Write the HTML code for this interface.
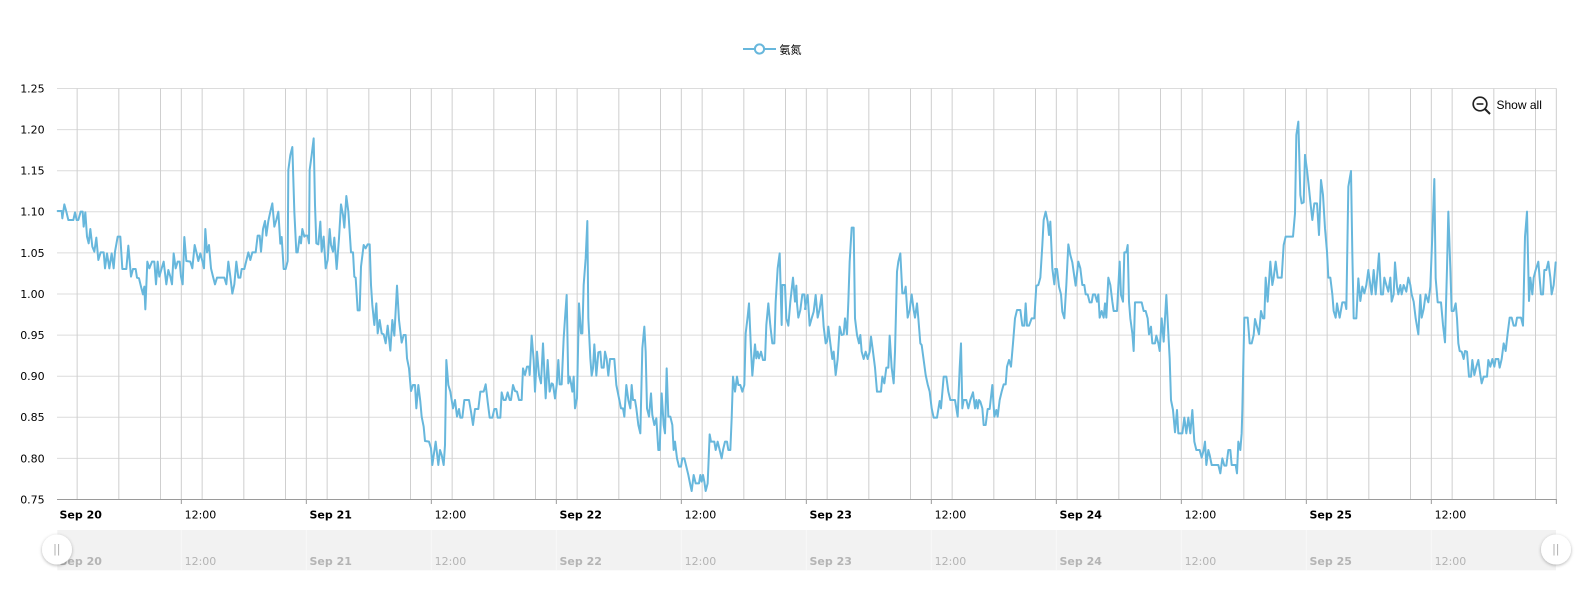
<!DOCTYPE html>
<html>
<head>
<meta charset="utf-8">
<style>
  html, body { margin: 0; padding: 0; background: #ffffff; }
  body { width: 1577px; height: 595px; overflow: hidden; }
  svg { display: block; }
  .ax { font-family: "DejaVu Sans", "Liberation Sans", sans-serif; font-size: 11px; fill: #000; }
  .axb { font-family: "DejaVu Sans", "Liberation Sans", sans-serif; font-size: 11px; font-weight: bold; fill: #000; }
  .sc { font-family: "DejaVu Sans", "Liberation Sans", sans-serif; font-size: 11px; fill: #b4b4b4; }
  .scb { font-family: "DejaVu Sans", "Liberation Sans", sans-serif; font-size: 11px; font-weight: bold; fill: #b4b4b4; }
  .ser { fill: none; stroke: #67b7dc; stroke-width: 2; stroke-linejoin: round; stroke-linecap: round; }
</style>
</head>
<body>
<svg width="1577" height="595" viewBox="0 0 1577 595" xmlns="http://www.w3.org/2000/svg">
  <defs>
    <g id="dayg" stroke="#cfcfcf" stroke-width="1">
      <line x1="20.83" y1="88.5" x2="20.83" y2="499.5"/>
      <line x1="62.5" y1="88.5" x2="62.5" y2="499.5"/>
      <line x1="104.17" y1="88.5" x2="104.17" y2="499.5"/>
      <line x1="125" y1="88.5" x2="125" y2="499.5"/>
      <line x1="145.83" y1="88.5" x2="145.83" y2="499.5"/>
      <line x1="187.5" y1="88.5" x2="187.5" y2="499.5"/>
      <line x1="229.17" y1="88.5" x2="229.17" y2="499.5"/>
      <line x1="250" y1="88.5" x2="250" y2="499.5"/>
    </g>
    <filter id="sh" x="-50%" y="-50%" width="200%" height="200%">
      <feDropShadow dx="0" dy="1" stdDeviation="1.6" flood-color="#000" flood-opacity="0.3"/>
    </filter>
  </defs>

  <!-- horizontal grid -->
  <g stroke="#dcdcdc" stroke-width="1">
    <line x1="57" y1="88.5" x2="1556.5" y2="88.5"/>
    <line x1="57" y1="129.6" x2="1556.5" y2="129.6"/>
    <line x1="57" y1="170.7" x2="1556.5" y2="170.7"/>
    <line x1="57" y1="211.8" x2="1556.5" y2="211.8"/>
    <line x1="57" y1="252.9" x2="1556.5" y2="252.9"/>
    <line x1="57" y1="294" x2="1556.5" y2="294"/>
    <line x1="57" y1="335.1" x2="1556.5" y2="335.1"/>
    <line x1="57" y1="376.2" x2="1556.5" y2="376.2"/>
    <line x1="57" y1="417.3" x2="1556.5" y2="417.3"/>
    <line x1="57" y1="458.4" x2="1556.5" y2="458.4"/>
  </g>

  <!-- vertical grid -->
  <use href="#dayg" x="56.33" y="0"/>
  <use href="#dayg" x="306.33" y="0"/>
  <use href="#dayg" x="556.33" y="0"/>
  <use href="#dayg" x="806.33" y="0"/>
  <use href="#dayg" x="1056.33" y="0"/>
  <use href="#dayg" x="1306.33" y="0"/>

  <!-- axis line -->
  <line x1="57" y1="499.5" x2="1556.8" y2="499.5" stroke="#9a9a9a" stroke-width="1"/>
  <g stroke="#9a9a9a" stroke-width="1">
    <line x1="181.33" y1="499.5" x2="181.33" y2="504"/>
    <line x1="306.33" y1="499.5" x2="306.33" y2="504"/>
    <line x1="431.33" y1="499.5" x2="431.33" y2="504"/>
    <line x1="556.33" y1="499.5" x2="556.33" y2="504"/>
    <line x1="681.33" y1="499.5" x2="681.33" y2="504"/>
    <line x1="806.33" y1="499.5" x2="806.33" y2="504"/>
    <line x1="931.33" y1="499.5" x2="931.33" y2="504"/>
    <line x1="1056.33" y1="499.5" x2="1056.33" y2="504"/>
    <line x1="1181.33" y1="499.5" x2="1181.33" y2="504"/>
    <line x1="1306.33" y1="499.5" x2="1306.33" y2="504"/>
    <line x1="1431.33" y1="499.5" x2="1431.33" y2="504"/>
    <line x1="1556.33" y1="499.5" x2="1556.33" y2="504"/>
  </g>

  <!-- y labels -->
  <g class="ax" text-anchor="end">
    <text x="44.7" y="92.4">1.25</text>
    <text x="44.7" y="133.5">1.20</text>
    <text x="44.7" y="174.6">1.15</text>
    <text x="44.7" y="215.7">1.10</text>
    <text x="44.7" y="256.8">1.05</text>
    <text x="44.7" y="297.9">1.00</text>
    <text x="44.7" y="339">0.95</text>
    <text x="44.7" y="380.1">0.90</text>
    <text x="44.7" y="421.2">0.85</text>
    <text x="44.7" y="462.3">0.80</text>
    <text x="44.7" y="503.4">0.75</text>
  </g>

  <!-- x labels -->
  <text class="axb" x="59.5" y="518.3">Sep 20</text>
  <text class="ax" x="184.6" y="518.3">12:00</text>
  <text class="axb" x="309.5" y="518.3">Sep 21</text>
  <text class="ax" x="434.6" y="518.3">12:00</text>
  <text class="axb" x="559.5" y="518.3">Sep 22</text>
  <text class="ax" x="684.6" y="518.3">12:00</text>
  <text class="axb" x="809.5" y="518.3">Sep 23</text>
  <text class="ax" x="934.6" y="518.3">12:00</text>
  <text class="axb" x="1059.5" y="518.3">Sep 24</text>
  <text class="ax" x="1184.6" y="518.3">12:00</text>
  <text class="axb" x="1309.5" y="518.3">Sep 25</text>
  <text class="ax" x="1434.6" y="518.3">12:00</text>

  <!-- series -->
  <g transform="translate(55,85) scale(0.333333)">
    <polyline class="ser" vector-effect="non-scaling-stroke" points="8,378 20,378 22,400 28,358 34,380 40,405 55,405 60,382 65,405 70,405 77,380 83,380 86,425 91,382 96,455 101,475 106,432 112,485 118,500 124,458 130,525 137,502 146,502 150,550 156,505 163,550 170,505 176,550 180,500 188,455 196,455 202,552 214,552 220,482 228,575 234,552 242,552 246,578 252,580 258,605 264,628 268,605 271,673 277,530 283,550 291,530 298,530 303,598 308,530 313,575 320,550 326,530 334,598 340,555 346,575 351,598 356,505 362,550 368,530 374,530 378,575 383,598 388,456 394,528 406,530 412,550 419,480 425,505 430,528 436,505 442,528 447,550 451,432 456,502 462,480 468,550 474,575 480,598 486,578 508,578 514,598 520,530 526,575 532,626 538,598 544,530 550,578 556,578 560,552 568,552 580,502 586,525 592,502 602,502 608,452 614,452 618,500 624,432 630,408 634,452 640,408 646,380 652,355 658,425 664,405 670,380 676,476 680,456 686,552 692,552 698,528 700,255 706,210 712,186 718,380 724,502 728,502 734,455 738,475 742,432 748,455 750,452"/>
  </g>
  <g transform="translate(305,85) scale(0.333333)">
    <polyline class="ser" vector-effect="non-scaling-stroke" points="0,452 8,452 12,475 14,255 20,210 26,160 30,360 34,475 40,478 46,410 50,500 56,455 62,550 68,525 74,432 78,480 84,500 88,458 95,552 102,460 108,358 114,390 118,428 124,333 130,380 138,502 144,502 148,575 152,578 158,676 164,676 168,545 176,480 182,490 188,478 194,478 198,600 202,660 208,720 214,655 218,745 224,705 230,745 236,748 242,775 248,722 256,797 262,705 268,752 276,602 282,705 290,773 296,750 302,750 306,820 312,850 318,918 324,900 330,900 334,970 340,900 346,950 350,995 356,1025 360,1068 372,1070 378,1090 382,1140 392,1070 400,1140 405,1095 410,1110 416,1140 420,1080 424,825 430,900 436,920 444,970 450,945 456,995 462,972 466,998 472,998 478,945 492,945 498,980 504,1020 510,972 520,972 526,920 536,920 542,898 548,950 554,998 562,998 568,972 574,972 578,998 586,998 590,922 596,945 602,945 608,922 614,945 618,945 624,900 630,918 636,920 642,945 650,945 654,850 660,870 666,845 672,845 674,870 680,752 686,825 690,920 696,800 702,870 708,895 714,775 720,900 722,940 728,825 734,920 740,895 744,898 750,940"/>
  </g>
  <g transform="translate(555,85) scale(0.333333)">
    <polyline class="ser" vector-effect="non-scaling-stroke" points="0,940 5,900 10,825 14,898 20,898 26,760 30,700 35,630 40,895 44,875 48,895 52,920 56,875 60,970 66,940 72,655 78,745 82,745 86,600 92,520 97,408 100,700 106,820 110,872 114,850 118,778 124,872 130,802 136,800 140,848 146,848 150,800 155,822 160,872 165,822 178,822 184,900 190,930 198,970 204,970 208,995 214,900 220,945 226,970 230,900 234,945 240,945 244,970 250,1020 256,1045 262,790 268,725 272,800 276,970 282,995 288,925 292,990 298,1020 304,1000 310,1095 314,1095 320,925 326,1020 330,1045 335,850 340,995 346,995 352,1020 356,1095 360,1070 366,1120 372,1145 378,1145 382,1120 388,1120 394,1145 400,1170 406,1200 410,1218 416,1170 422,1195 432,1195 436,1170 440,1190 444,1170 448,1190 452,1218 458,1195 464,1048 468,1070 478,1070 482,1095 488,1070 494,1095 500,1120 504,1095 510,1070 516,1070 520,1095 526,1095 530,1000 534,875 540,920 546,875 550,900 556,900 562,920 568,900 572,745 578,695 582,655 588,795 592,872 596,825 600,778 604,820 608,800 612,820 618,800 624,825 630,825 634,720 640,655 646,722 652,775 658,775 662,650 668,550 674,505 680,720 682,600 690,600 694,700 700,722 706,650 714,578 720,650 724,602 726,655 730,698 736,675 742,628 748,628 752,672"/>
  </g>
  <g transform="translate(805,85) scale(0.333333)">
    <polyline class="ser" vector-effect="non-scaling-stroke" points="0,672 4,650 8,630 14,722 20,700 26,680 32,630 38,698 44,672 50,630 56,725 62,775 66,770 70,725 76,775 82,822 86,800 92,870 98,822 104,725 110,750 116,748 120,700 126,748 130,650 134,530 140,428 146,428 150,700 156,750 162,775 166,750 170,800 176,822 182,800 188,822 194,800 198,755 204,800 210,848 216,920 228,920 232,875 238,895 244,848 250,848 254,752 260,848 266,895 270,800 276,560 280,530 286,505 292,625 298,625 302,605 308,698 314,675 320,628 326,675 330,698 336,655 340,700 346,775 350,780 356,825 362,870 368,898 374,920 380,970 386,998 396,998 404,948 408,970 416,875 424,875 430,920 436,945 450,945 458,995 464,850 468,775 472,970 476,945 484,945 490,970 496,945 504,922 510,970 514,945 518,970 522,945 526,950 532,970 536,1020 542,1020 548,972 554,972 562,900 568,995 574,975 578,995 584,945 590,920 596,898 602,898 606,845 612,825 618,845 624,775 630,700 636,675 646,675 652,722 658,722 662,655 666,722 672,722 680,700 688,700 694,602 700,600 706,578 712,480 716,405 722,380 728,410 732,450 736,410 742,550 748,598 752,552"/>
  </g>
  <g transform="translate(1055,85) scale(0.333333)">
    <polyline class="ser" vector-effect="non-scaling-stroke" points="0,552 6,552 12,605 18,628 22,680 28,700 34,600 40,478 46,510 52,532 58,575 62,602 70,530 76,550 82,600 88,600 92,628 98,628 104,652 110,652 114,628 120,628 126,650 130,628 134,698 140,678 146,698 150,655 154,698 160,578 166,600 172,650 176,678 186,678 194,530 198,630 204,650 208,502 214,502 218,480 222,650 226,700 232,745 236,798 240,652 260,652 266,678 272,678 278,700 282,748 288,725 292,775 300,775 304,752 310,775 314,798 320,700 326,770 330,700 334,630 340,745 344,820 348,945 354,975 360,1042 366,975 370,1045 382,1045 388,998 394,1045 400,998 406,1045 412,975 418,1070 424,1095 434,1095 440,1118 446,1095 450,1070 454,1140 460,1095 464,1110 470,1140 490,1140 496,1165 502,1120 508,1142 514,1142 520,1095 526,1095 530,1140 542,1140 546,1165 550,1070 556,1095 560,1045 562,975 568,698 578,698 584,775 590,775 596,750 600,702 606,725 612,748 618,678 624,700 628,700 632,578 638,650 646,530 652,600 656,578 662,530 668,578 680,578 686,480 692,455 714,455 720,385 724,150 730,110 736,330 740,355 746,352 750,210"/>
  </g>
  <g transform="translate(1305,85) scale(0.333333)">
    <polyline class="ser" vector-effect="non-scaling-stroke" points="0,210 6,255 12,310 16,350 22,405 28,355 36,355 42,450 48,285 54,330 60,430 66,500 70,578 76,578 82,628 86,678 92,698 96,655 100,678 104,698 112,652 120,652 124,672 130,305 138,258 142,505 146,700 154,700 160,580 166,648 172,605 178,625 184,600 190,555 196,600 200,628 206,555 212,628 218,555 222,505 228,628 234,628 238,578 244,600 250,620 256,578 260,650 266,628 270,532 276,605 280,628 286,600 290,628 296,600 304,620 310,578 316,600 320,628 326,650 332,700 340,748 346,630 350,698 356,672 362,628 370,652 376,605 382,450 388,282 392,580 398,652 408,652 414,720 420,772 426,550 430,380 436,550 440,678 446,678 452,655 456,700 460,775 464,798 470,800 476,822 480,798 486,800 492,875 498,875 502,825 508,870 514,845 520,825 526,870 530,895 536,875 546,875 550,825 556,845 562,822 568,845 572,822 580,822 584,848 590,822 596,775 602,798 608,745 614,698 620,698 626,722 632,722 636,698 648,698 654,722 660,455 666,380 672,648 676,578 682,628 686,578 692,555 700,530 704,580 708,628 714,628 718,555 724,555 730,530 736,578 740,628 746,600 752,532"/>
  </g>

  <!-- legend -->
  <line x1="743" y1="49" x2="776" y2="49" stroke="#67b7dc" stroke-width="2"/>
  <circle cx="759.5" cy="49" r="4.6" fill="#ffffff" stroke="#67b7dc" stroke-width="2"/>
  <text x="779.5" y="53.5" style="font-family: 'Liberation Sans', 'Noto Sans CJK SC', sans-serif; font-size: 11px; fill: #000;">氨氮</text>

  <!-- show all -->
  <circle cx="1480" cy="104" r="6.8" fill="none" stroke="#222" stroke-width="1.7"/>
  <line x1="1476.6" y1="104" x2="1483.4" y2="104" stroke="#222" stroke-width="1.6"/>
  <line x1="1485" y1="109" x2="1490" y2="114" stroke="#222" stroke-width="2"/>
  <text x="1496.5" y="108.8" style="font-family: 'Liberation Sans', sans-serif; font-size: 12px; fill: #000;">Show all</text>

  <!-- scrollbar -->
  <rect x="57.3" y="530" width="1498.7" height="40.3" fill="#f2f2f2"/>
  <g stroke="#f8f8f8" stroke-width="1">
    <line x1="181.33" y1="530" x2="181.33" y2="570"/>
    <line x1="306.33" y1="530" x2="306.33" y2="570"/>
    <line x1="431.33" y1="530" x2="431.33" y2="570"/>
    <line x1="556.33" y1="530" x2="556.33" y2="570"/>
    <line x1="681.33" y1="530" x2="681.33" y2="570"/>
    <line x1="806.33" y1="530" x2="806.33" y2="570"/>
    <line x1="931.33" y1="530" x2="931.33" y2="570"/>
    <line x1="1056.33" y1="530" x2="1056.33" y2="570"/>
    <line x1="1181.33" y1="530" x2="1181.33" y2="570"/>
    <line x1="1306.33" y1="530" x2="1306.33" y2="570"/>
    <line x1="1431.33" y1="530" x2="1431.33" y2="570"/>
  </g>
  <text class="scb" x="59.5" y="565">Sep 20</text>
  <text class="sc" x="184.6" y="565">12:00</text>
  <text class="scb" x="309.5" y="565">Sep 21</text>
  <text class="sc" x="434.6" y="565">12:00</text>
  <text class="scb" x="559.5" y="565">Sep 22</text>
  <text class="sc" x="684.6" y="565">12:00</text>
  <text class="scb" x="809.5" y="565">Sep 23</text>
  <text class="sc" x="934.6" y="565">12:00</text>
  <text class="scb" x="1059.5" y="565">Sep 24</text>
  <text class="sc" x="1184.6" y="565">12:00</text>
  <text class="scb" x="1309.5" y="565">Sep 25</text>
  <text class="sc" x="1434.6" y="565">12:00</text>

  <!-- grips -->
  <circle cx="57" cy="549.5" r="15" fill="#ffffff" filter="url(#sh)"/>
  <line x1="55" y1="544" x2="55" y2="555.5" stroke="#b0b0b0" stroke-width="1"/>
  <line x1="58.6" y1="544" x2="58.6" y2="555.5" stroke="#b0b0b0" stroke-width="1"/>
  <circle cx="1556" cy="549.5" r="15" fill="#ffffff" filter="url(#sh)"/>
  <line x1="1554" y1="544" x2="1554" y2="555.5" stroke="#b0b0b0" stroke-width="1"/>
  <line x1="1557.6" y1="544" x2="1557.6" y2="555.5" stroke="#b0b0b0" stroke-width="1"/>
</svg>
</body>
</html>
